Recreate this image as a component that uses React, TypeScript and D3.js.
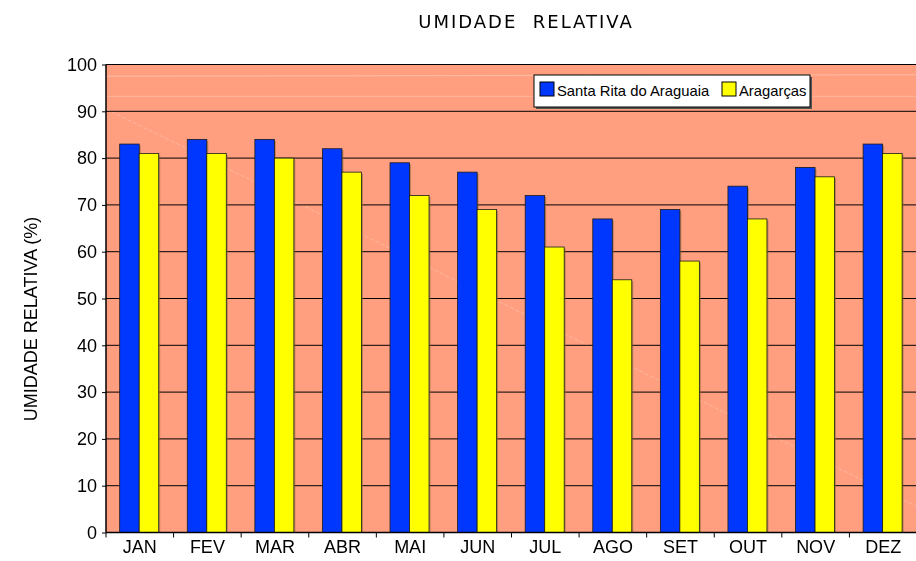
import React, { useEffect, useRef } from 'react';
import * as d3 from 'd3';

const months = ['JAN', 'FEV', 'MAR', 'ABR', 'MAI', 'JUN', 'JUL', 'AGO', 'SET', 'OUT', 'NOV', 'DEZ'];
const santaRita = [83, 84, 84, 82, 79, 77, 72, 67, 69, 74, 78, 83];
const aragarcas = [81, 81, 80, 77, 72, 69, 61, 54, 58, 67, 76, 81];
const seriesNames = ['Santa Rita do Araguaia', 'Aragarças'];
const yTicks = [0, 10, 20, 30, 40, 50, 60, 70, 80, 90, 100];

export default function App() {
  const ref = useRef<SVGSVGElement>(null);

  useEffect(() => {
    if (!ref.current) return;
    const svg = d3.select(ref.current);
    svg.selectAll('*').remove();

    const width = 916;
    const height = 561;
    const margin = { top: 64.5, right: -1, bottom: 28.5, left: 106 };
    const innerW = width - margin.left - margin.right;
    const innerH = height - margin.top - margin.bottom;
    const font = 'Liberation Sans, Arial, sans-serif';

    const x = d3.scaleBand().domain(months).range([0, innerW]).paddingInner(0).paddingOuter(0);
    const y = d3.scaleLinear().domain([0, 100]).range([innerH, 0]);
    const inner = d3.scaleBand().domain(['a', 'b']).range([13.7, 13.7 + 39]);

    const g = svg.append('g').attr('transform', `translate(${margin.left},${margin.top})`);

    // background
    g.append('rect').attr('width', innerW).attr('height', innerH).attr('fill', '#ff9f80');

    // faint decorative streaks
    g.append('line').attr('x1', 0).attr('y1', y(90.5)).attr('x2', innerW).attr('y2', y(5.5))
      .attr('stroke', '#ffc4b0').attr('stroke-width', 0.8).attr('stroke-dasharray', '4 2').attr('opacity', 0.8);
    g.append('line').attr('x1', 0).attr('y1', y(97.5)).attr('x2', innerW).attr('y2', y(97.8))
      .attr('stroke', '#ffc4b0').attr('stroke-width', 1).attr('opacity', 0.8);
    g.append('line').attr('x1', 0).attr('y1', y(93.2)).attr('x2', innerW).attr('y2', y(93.2))
      .attr('stroke', '#ffc4b0').attr('stroke-width', 1).attr('opacity', 0.6);

    // gridlines
    g.append('g')
      .selectAll('line')
      .data(yTicks.filter(t => t > 0))
      .join('line')
      .attr('x1', 0).attr('x2', innerW)
      .attr('y1', d => y(d)).attr('y2', d => y(d))
      .attr('stroke', '#000').attr('stroke-width', 1);

    const drawSeries = (vals: number[], key: string, fill: string) => {
      const gs = g.append('g');
      gs.selectAll('rect.shadow')
        .data(vals)
        .join('rect')
        .attr('x', (d, i) => (x(months[i]) as number) + (inner(key) as number) + 1.5)
        .attr('y', d => y(d) + 1.5)
        .attr('width', inner.bandwidth())
        .attr('height', d => innerH - y(d) - 1.5)
        .attr('fill', '#8a6a3a').attr('opacity', 0.55);
      gs.selectAll('rect.bar')
        .data(vals)
        .join('rect')
        .attr('class', 'bar')
        .attr('x', (d, i) => (x(months[i]) as number) + (inner(key) as number))
        .attr('y', d => y(d))
        .attr('width', inner.bandwidth())
        .attr('height', d => innerH - y(d))
        .attr('fill', fill)
        .attr('stroke', '#1a1a1a').attr('stroke-width', 0.8);
    };
    drawSeries(santaRita, 'a', '#0037ff');
    drawSeries(aragarcas, 'b', '#ffff00');

    // axes
    g.append('line').attr('x1', 0).attr('x2', 0).attr('y1', 0).attr('y2', innerH)
      .attr('stroke', '#000').attr('stroke-width', 1.5);
    g.append('line').attr('x1', 0).attr('x2', innerW).attr('y1', innerH).attr('y2', innerH)
      .attr('stroke', '#000').attr('stroke-width', 1.5);
    g.append('line').attr('x1', 0).attr('x2', innerW).attr('y1', 0).attr('y2', 0)
      .attr('stroke', '#000').attr('stroke-width', 1);

    const yAxis = g.append('g')
      .call(d3.axisLeft(y).tickValues(yTicks).tickSize(4).tickPadding(5).tickSizeOuter(0));
    yAxis.select('.domain').remove();
    yAxis.selectAll('line').attr('stroke', '#000');
    yAxis.selectAll('text')
      .style('font-family', font).style('font-size', '18px').attr('fill', '#000');

    const xAxis = g.append('g')
      .attr('transform', `translate(0,${innerH})`)
      .call(d3.axisBottom(x).tickSize(0).tickPadding(8));
    xAxis.select('.domain').remove();
    xAxis.selectAll('text')
      .style('font-family', font).style('font-size', '18px').attr('fill', '#000');
    // tick marks at category boundaries
    g.append('g')
      .selectAll('line')
      .data(months)
      .join('line')
      .attr('x1', d => x(d) as number).attr('x2', d => x(d) as number)
      .attr('y1', innerH).attr('y2', innerH + 5)
      .attr('stroke', '#000');

    // title
    svg.append('text')
      .attr('x', 526).attr('y', 28)
      .attr('text-anchor', 'middle')
      .style('font-family', 'DejaVu Sans, sans-serif')
      .style('font-size', '18px')
      .style('letter-spacing', '2px')
      .style('white-space', 'pre')
      .attr('fill', '#000')
      .text('UMIDADE  RELATIVA');

    // y label
    svg.append('text')
      .attr('transform', `translate(37,319) rotate(-90)`)
      .attr('text-anchor', 'middle')
      .style('font-family', font)
      .style('font-size', '18px')
      .attr('fill', '#000')
      .text('UMIDADE RELATIVA (%)');

    // legend
    const lg = svg.append('g').attr('transform', 'translate(534,75)');
    lg.append('rect').attr('x', 2).attr('y', 2).attr('width', 276).attr('height', 32).attr('fill', '#555');
    lg.append('rect').attr('width', 276).attr('height', 32).attr('fill', '#fff')
      .attr('stroke', '#000').attr('stroke-width', 1);
    const colors = ['#0037ff', '#ffff00'];
    const offs = [6, 188];
    seriesNames.forEach((name, i) => {
      lg.append('rect').attr('x', offs[i]).attr('y', 7).attr('width', 14).attr('height', 14)
        .attr('fill', colors[i]).attr('stroke', '#000').attr('stroke-width', 1);
      lg.append('text').attr('x', offs[i] + 17).attr('y', 20.5)
        .style('font-family', font).style('font-size', '14.8px').attr('fill', '#000')
        .text(name);
    });
  }, []);

  return (
    <svg
      ref={ref}
      width={916}
      height={561}
      style={{ display: 'block', position: 'fixed', left: 0, top: 0 }}
    />
  );
}
